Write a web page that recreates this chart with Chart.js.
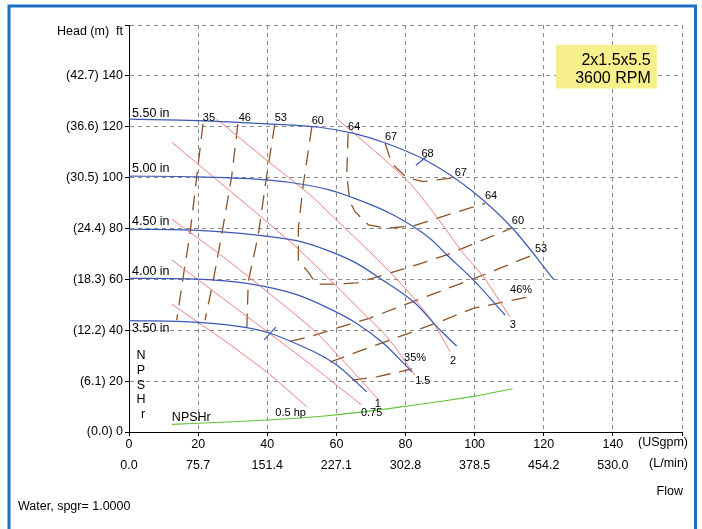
<!DOCTYPE html>
<html>
<head>
<meta charset="utf-8">
<script src="https://cdn.jsdelivr.net/npm/chart.js@4/dist/chart.umd.min.js"></script>
<style>
  html, body { margin: 0; padding: 0; background: #fff; }
  #wrap { width: 702px; height: 529px; position: relative; }
</style>
</head>
<body>
<div id="wrap"><canvas id="c" width="702" height="529"></canvas></div>
<script>
// ---------- axis ticks ----------
const gpmTicks = [0, 20, 40, 60, 80, 100, 120, 140];
const lpmTicks = ['0.0', '75.7', '151.4', '227.1', '302.8', '378.5', '454.2', '530.0'];
const ftTicks = [0, 20, 40, 60, 80, 100, 120, 140];
const mTicks = ['(0.0)', '(6.1)', '(12.2)', '(18.3)', '(24.4)', '(30.5)', '(36.6)', '(42.7)'];

// ---------- impeller curves (USgpm, ft) ----------
const impellerNames = ['5.50 in', '5.00 in', '4.50 in', '4.00 in', '3.50 in'];
const imp550 = [[0,123],[20,122.4],[40,121.1],[55,119.8],[65,117.4],[74,113.7],[86,106.7],[99,95],[111,80],[123,59.8]];
const imp500 = [[0,100.6],[20,100.3],[40,99.1],[51.4,97.1],[58.2,95.1],[64,92.5],[76.5,85.3],[87.1,76.1],[92,69.6],[99.6,59.8],[108.8,46]];
const imp450 = [[0,79.7],[20,79.3],[37,77.4],[48.5,75.2],[57.2,71.5],[65.9,66.3],[72.6,60.4],[82.8,50.6],[90,40.1],[94.8,33.8]];
const imp400 = [[0,60.4],[20,60.1],[35,58.2],[48.5,54],[57.2,49],[65.9,42.7],[73.6,34.9],[81.8,23.7]];
const imp350 = [[0,43.8],[20,43.1],[34.1,41],[40.8,38.8],[51.4,32.9],[55.3,30.3],[60.1,26.3],[68.8,15.8]];

// ---------- power curves (hp) ----------
const hpNames = ['0.5 hp', '0.75', '1', '1.5', '2', '3'];
const hp05 = [[12.4,50.2],[27.3,36.2],[39.8,23.6],[51.4,10]];
const hp075 = [[12.4,67.6],[52.4,26.7],[58.2,20.4],[67.3,10.6]];
const hp1 = [[12.4,83.7],[29.2,66.8],[52.4,41.3],[58.2,33.5],[72,13]];
const hp15 = [[12.4,113.9],[46.6,74.8],[58.2,59.8],[67.8,46.7],[74.6,37.5],[82.7,22.4]];
const hp2 = [[25.4,123],[39.8,106.9],[52.4,93.2],[58.2,85.7],[75.5,62.9],[87.1,44.8],[92.9,31.6]];
const hp3 = [[60.1,123.3],[80.3,99.1],[89,84.6],[96.7,70.3],[102.5,61.1],[110.2,45.3]];

// ---------- efficiency contours (%) ----------
const effNamesLeft = ['35', '46', '53', '60', '64', '67'];
const effNamesRight = ['35%', '46%', '53', '60', '64', '67'];
const eff35L = [[21.4,121.1],[19.6,100.4],[17.6,77.4],[16.2,65.6],[13.8,44]];
const eff35R = [[64.5,20.4],[72,21.8],[81.9,24.8]];
const eff46L = [[31.5,121.1],[29.7,100.4],[26.8,77.4],[24.4,59.7],[22,44]];
const eff46R = [[58.2,27.5],[70.7,33.8],[80.3,38.5],[90,43.4],[99.6,48.6],[116.9,53.5]];
const eff53L = [[42.2,121.1],[39.8,100.4],[37.4,77.4],[34.5,59.1],[34.1,41.3]];
const eff53R = [[46.6,35.6],[52.4,37.5],[60.1,40.8],[69.7,44.8],[102.4,61.7],[116.9,69.6]];
const eff60 = [[52.9,120],[50.4,97.1],[49,80.1],[49,66.9],[51.4,63.7],[54.3,58.1],[59.1,58.1],[65.9,58.6],[75.5,62.5],[83.2,65.7],[91.9,69.6],[99.5,73.9],[107.3,78.2],[110.8,80.2]];
const eff64 = [[63.4,117.4],[63,101],[63.9,90.5],[65.4,86.6],[69.3,81.4],[74.6,80.1],[82.2,81],[93.7,86],[103,89.9]];
const eff67 = [[74.1,113.5],[75.3,108.5],[76.5,104.9],[80.3,100.1],[85.1,98.4],[93.7,99.9]];
const bepName = '68';
const bepTickTop = [[83.0,104.9],[86.1,108.2]];
const bepTickBottom = [[39.1,36.2],[42.5,41.2]];

// ---------- NPSHr ----------
const npshr = [[12.4,3.0],[30,4.0],[45,5.1],[58,6.5],[70,8.3],[80,10.1],[90,12],[100,14.1],[111,17]];

const pumpTitle = ['2x1.5x5.5', '3600 RPM'];

// ---------- styles ----------
const FONT = '"Liberation Sans", Arial, Helvetica, sans-serif';
const BLUE = '#3b57b5', RED = '#f47f7f', BROWN = '#8b5328', GREEN = '#62c43a';
const toPts = a => a.map(p => ({x: p[0], y: p[1]}));

const impellers = [imp550, imp500, imp450, imp400, imp350];
const hps = [hp05, hp075, hp1, hp15, hp2, hp3];
const effLeft = [eff35L, eff46L, eff53L, eff60, eff64, eff67];
const effRight = [eff35R, eff46R, eff53R, eff60, eff64, eff67];
const effAll = [eff35L, eff35R, eff46L, eff46R, eff53L, eff53R, eff60, eff64, eff67];

const impLabelDy = [-6, -8, -8, -7, 8];
const hpLabelOff = [[-16,6],[10,8],[0,5],[8,6],[3,9],[3,8]];
const effLeftOff = [[6,-6],[7,-6],[6,-6],[6,-6],[6,-6],[6,-6]];
const effRightOff = [[3,-11],[-12,-6],[8,-6],[6,-7],[6,-7],[8,-5]];

const datasets = [];
impellers.forEach(a => datasets.push({data: toPts(a), borderColor: BLUE, borderWidth: 1.2, cubicInterpolationMode: 'monotone'}));
datasets.push({data: toPts(bepTickTop), borderColor: BLUE, borderWidth: 1.2});
datasets.push({data: toPts(bepTickBottom), borderColor: BLUE, borderWidth: 1.2});
hps.forEach(a => datasets.push({data: toPts(a), borderColor: RED, borderWidth: 1, tension: 0.3}));
effAll.forEach(a => datasets.push({data: toPts(a), borderColor: BROWN, borderWidth: 1.3, borderDash: [15, 9], tension: 0}));
datasets.push({data: toPts(npshr), borderColor: GREEN, borderWidth: 1.1, cubicInterpolationMode: 'monotone'});
datasets.forEach(d => { d.showLine = true; d.pointRadius = 0; d.fill = false; });

const framePlugin = {
  id: 'frame',
  beforeDraw(chart) {
    const ctx = chart.ctx;
    ctx.save();
    ctx.fillStyle = '#fff';
    ctx.fillRect(0, 0, chart.width, chart.height);
    ctx.strokeStyle = '#1a6fc2';
    ctx.lineWidth = 3;
    ctx.strokeRect(9, 6, 686.5, 560);
    ctx.restore();
  }
};

const textPlugin = {
  id: 'texts',
  afterDatasetsDraw(chart) {
    const {ctx, scales: {x, y}} = chart;
    const px = p => x.getPixelForValue(p[0]);
    const py = p => y.getPixelForValue(p[1]);
    ctx.save();
    ctx.fillStyle = '#000';
    ctx.textBaseline = 'middle';

    // impeller names
    ctx.font = '12.5px ' + FONT;
    ctx.textAlign = 'left';
    impellers.forEach((a, i) => ctx.fillText(impellerNames[i], px(a[0]) + 3, py(a[0]) + impLabelDy[i]));

    // NPSHr
    ctx.fillText('NPSHr', px(npshr[0]), py(npshr[0]) - 7);
    ctx.textAlign = 'center';
    'NPSHr'.split('').forEach((ch, i) => ctx.fillText(ch, x.left + 12 + (ch === 'r' ? 2 : 0), y.getPixelForValue(30) + i * 14.7));

    // hp labels
    ctx.font = '11px ' + FONT;
    hps.forEach((a, i) => {
      const e = a[a.length - 1];
      ctx.fillText(hpNames[i], px(e) + hpLabelOff[i][0], py(e) + hpLabelOff[i][1]);
    });

    // efficiency labels
    effLeft.forEach((a, i) => ctx.fillText(effNamesLeft[i], px(a[0]) + effLeftOff[i][0], py(a[0]) + effLeftOff[i][1]));
    effRight.forEach((a, i) => {
      const e = a[a.length - 1];
      ctx.fillText(effNamesRight[i], px(e) + effRightOff[i][0], py(e) + effRightOff[i][1]);
    });
    const bt = bepTickTop[bepTickTop.length - 1];
    ctx.fillText(bepName, px(bt) + 1, py(bt) - 3);

    // axis titles
    ctx.font = '12.5px ' + FONT;
    ctx.textAlign = 'right';
    ctx.fillText('Head (m)  ft', x.left - 6, y.top + 7);
    ctx.fillText('(USgpm)', x.right + 6, y.bottom + 11);
    ctx.fillText('(L/min)', x.right + 6, y.bottom + 32);
    ctx.fillText('Flow', x.right + 1, y.bottom + 60);
    ctx.textAlign = 'left';
    ctx.fillText('Water, spgr= 1.0000', 18, y.bottom + 75);

    // pump box
    const bx0 = x.getPixelForValue(123.5), bx1 = x.getPixelForValue(152.7);
    const by0 = y.getPixelForValue(152.2), by1 = y.getPixelForValue(135);
    ctx.fillStyle = '#f7ef8c';
    ctx.fillRect(bx0, by0, bx1 - bx0, by1 - by0);
    ctx.fillStyle = '#000';
    ctx.font = '16px ' + FONT;
    ctx.textAlign = 'right';
    ctx.fillText(pumpTitle[0], bx1 - 6, by0 + 16);
    ctx.fillText(pumpTitle[1], bx1 - 6, by0 + 34);
    ctx.restore();
  }
};

Chart.defaults.font.family = FONT;
Chart.defaults.font.size = 12.5;
Chart.defaults.color = '#000';

new Chart(document.getElementById('c'), {
  type: 'scatter',
  data: { datasets },
  options: {
    responsive: false,
    animation: false,
    layout: { padding: { left: 0, right: 20, top: 25, bottom: 0 } },
    plugins: { legend: { display: false }, tooltip: { enabled: false } },
    scales: {
      x: {
        type: 'linear', min: 0, max: 160,
        afterFit: s => { s.height = 97; },
        grid: { color: '#8a8a8a', lineWidth: 1, tickColor: '#000', tickLength: 4 },
        border: { display: true, color: '#000', width: 1, dash: [4, 4] },
        ticks: {
          stepSize: 20, autoSkip: false, maxRotation: 0, padding: -2,
          font: { size: 12.5, lineHeight: 1.68 },
          callback: v => { const i = gpmTicks.indexOf(v); return i < 0 ? '' : [String(v), lpmTicks[i]]; }
        }
      },
      y: {
        type: 'linear', min: 0, max: 160,
        afterFit: s => { s.width = 129; },
        grid: { color: '#8a8a8a', lineWidth: 1, tickColor: '#000', tickLength: 4 },
        border: { display: true, color: '#000', width: 1, dash: [4, 4] },
        ticks: {
          stepSize: 20, autoSkip: false, padding: 2,
          font: { size: 12.5 },
          callback: v => { const i = ftTicks.indexOf(v); return i < 0 ? '' : mTicks[i] + ' ' + v; }
        }
      }
    }
  },
  plugins: [framePlugin, textPlugin]
});
</script>
</body>
</html>
